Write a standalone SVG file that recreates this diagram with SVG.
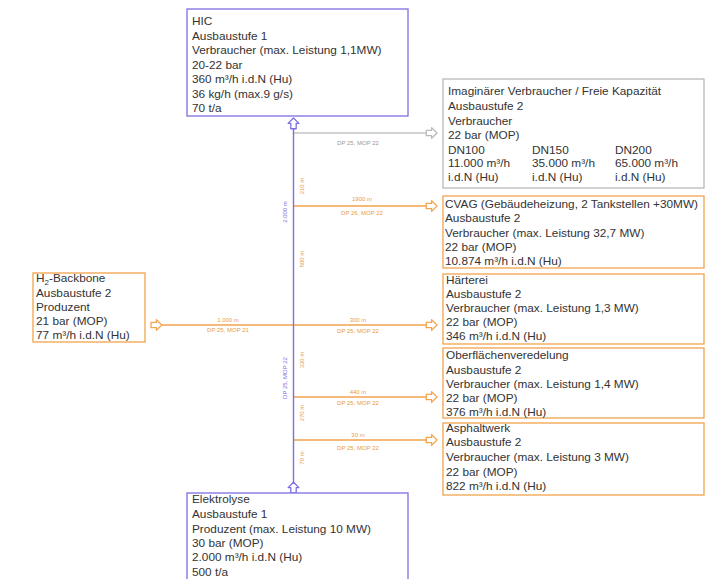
<svg xmlns="http://www.w3.org/2000/svg" width="707" height="579" viewBox="0 0 707 579">
<style>
.box{fill:#fff;stroke-width:1.3}
.pur{stroke:#7d6fe3}
.ora{stroke:#f2a34d}
.gry{stroke:#b9b9b9}
.t{font-family:"Liberation Sans",Arial,sans-serif;font-size:11.8px;fill:#333}
.lbl{font-family:"Liberation Sans",Arial,sans-serif;font-size:6px;text-anchor:middle}
.lo{fill:#e99b45}
.lp{fill:#7d6fe3}
.lg{fill:#999}
.ln{fill:none;stroke-width:1.4}
</style>
<defs>
<marker id="pe" markerUnits="userSpaceOnUse" markerWidth="14" markerHeight="14" viewBox="-1 -6 13 12" refX="10.5" refY="0" orient="auto"><path d="M0.5,-2.5H5.5V-5L10.5,0L5.5,5V2.5H0.5Z" fill="#fff" stroke="#7d6fe3" stroke-width="1.2" stroke-linejoin="round"/></marker>
<marker id="ps" markerUnits="userSpaceOnUse" markerWidth="14" markerHeight="14" viewBox="-1 -6 13 12" refX="0.5" refY="0" orient="auto"><path d="M0.5,-2.5H5.5V-5L10.5,0L5.5,5V2.5H0.5Z" fill="#fff" stroke="#7d6fe3" stroke-width="1.2" stroke-linejoin="round"/></marker>
<marker id="oe" markerUnits="userSpaceOnUse" markerWidth="14" markerHeight="14" viewBox="-1 -6 13 12" refX="10.5" refY="0" orient="auto"><path d="M0.5,-2.5H5.5V-5L10.5,0L5.5,5V2.5H0.5Z" fill="#fff" stroke="#f2a34d" stroke-width="1.2" stroke-linejoin="round"/></marker>
<marker id="os" markerUnits="userSpaceOnUse" markerWidth="14" markerHeight="14" viewBox="-1 -6 13 12" refX="0.5" refY="0" orient="auto"><path d="M0.5,-2.5H5.5V-5L10.5,0L5.5,5V2.5H0.5Z" fill="#fff" stroke="#f2a34d" stroke-width="1.2" stroke-linejoin="round"/></marker>
<marker id="ge" markerUnits="userSpaceOnUse" markerWidth="14" markerHeight="14" viewBox="-1 -6 13 12" refX="10.5" refY="0" orient="auto"><path d="M0.5,-2.5H5.5V-5L10.5,0L5.5,5V2.5H0.5Z" fill="#fff" stroke="#b9b9b9" stroke-width="1.2" stroke-linejoin="round"/></marker>
</defs>
<rect width="707" height="579" fill="#fff"/>

<g id="connectors">
<path class="ln" d="M293.5,133H437" stroke="#c4c4c4" marker-end="url(#ge)"/>
<path class="ln" d="M293.5,206H437" stroke="#f2a34d" marker-end="url(#oe)"/>
<path class="ln" d="M293.5,325H437" stroke="#f2a34d" marker-end="url(#oe)"/>
<path class="ln" d="M293.5,397H437" stroke="#f2a34d" marker-end="url(#oe)"/>
<path class="ln" d="M293.5,440H437" stroke="#f2a34d" marker-end="url(#oe)"/>
<path class="ln" d="M151,325H293.5" stroke="#f2a34d" marker-start="url(#os)"/>
<path class="ln" d="M293.5,493V118" stroke="#7d6fe3" marker-start="url(#ps)" marker-end="url(#pe)"/>
<text class="lbl lg" x="358" y="145">DP 25, MOP 22</text>
<text class="lbl lo" x="362" y="201">1900 m</text>
<text class="lbl lo" x="362" y="215">DP 26, MOP 22</text>
<text class="lbl lo" x="358" y="322">300 m</text>
<text class="lbl lo" x="358" y="333">DP 25, MOP 22</text>
<text class="lbl lo" x="358" y="394">440 m</text>
<text class="lbl lo" x="358" y="405">DP 25, MOP 22</text>
<text class="lbl lo" x="358" y="437">30 m</text>
<text class="lbl lo" x="358" y="450">DP 25, MOP 22</text>
<text class="lbl lo" x="228" y="322">1.000 m</text>
<text class="lbl lo" x="228" y="332">DP 25, MOP 21</text>
<text class="lbl lp" transform="translate(287,212) rotate(-90)">2.000 m</text>
<text class="lbl lo" transform="translate(304,186) rotate(-90)">210 m</text>
<text class="lbl lo" transform="translate(304,259) rotate(-90)">500 m</text>
<text class="lbl lp" transform="translate(287,378) rotate(-90)">DP 25, MOP 22</text>
<text class="lbl lo" transform="translate(304,360) rotate(-90)">330 m</text>
<text class="lbl lo" transform="translate(304,413) rotate(-90)">270 m</text>
<text class="lbl lo" transform="translate(304,458) rotate(-90)">70 m</text>
</g>

<g id="hic">
<rect class="box pur" x="187" y="9" width="221" height="107"/>
<text class="t" x="192" y="25">HIC</text>
<text class="t" x="192" y="39.5">Ausbaustufe 1</text>
<text class="t" x="192" y="54">Verbraucher (max. Leistung 1,1MW)</text>
<text class="t" x="192" y="68.5">20-22 bar</text>
<text class="t" x="192" y="83">360 m³/h i.d.N (Hu)</text>
<text class="t" x="192" y="97.5">36 kg/h (max.9 g/s)</text>
<text class="t" x="192" y="112">70 t/a</text>
</g>

<g id="imaginaer">
<rect class="box gry" x="443" y="79" width="261" height="109"/>
<text class="t" x="448" y="95">Imaginärer Verbraucher / Freie Kapazität</text>
<text class="t" x="448" y="110">Ausbaustufe 2</text>
<text class="t" x="448" y="125">Verbraucher</text>
<text class="t" x="448" y="139">22 bar (MOP)</text>
<text class="t" x="448" y="154">DN100</text>
<text class="t" x="532" y="154">DN150</text>
<text class="t" x="615" y="154">DN200</text>
<text class="t" x="448" y="167">11.000 m³/h</text>
<text class="t" x="532" y="167">35.000 m³/h</text>
<text class="t" x="615" y="167">65.000 m³/h</text>
<text class="t" x="448" y="181">i.d.N (Hu)</text>
<text class="t" x="532" y="181">i.d.N (Hu)</text>
<text class="t" x="615" y="181">i.d.N (Hu)</text>
</g>

<g id="cvag">
<rect class="box ora" x="443" y="196" width="261" height="72"/>
<text class="t" x="445" y="208">CVAG (Gebäudeheizung, 2 Tankstellen +30MW)</text>
<text class="t" x="445" y="222">Ausbaustufe 2</text>
<text class="t" x="445" y="237">Verbraucher (max. Leistung 32,7 MW)</text>
<text class="t" x="445" y="251">22 bar (MOP)</text>
<text class="t" x="445" y="265">10.874 m³/h i.d.N (Hu)</text>
</g>

<g id="haerterei">
<rect class="box ora" x="443" y="274" width="261" height="70"/>
<text class="t" x="446" y="284">Härterei</text>
<text class="t" x="446" y="298">Ausbaustufe 2</text>
<text class="t" x="446" y="312">Verbraucher (max. Leistung 1,3 MW)</text>
<text class="t" x="446" y="326">22 bar (MOP)</text>
<text class="t" x="446" y="340">346 m³/h i.d.N (Hu)</text>
</g>

<g id="oberflaechen">
<rect class="box ora" x="443" y="348" width="261" height="70"/>
<text class="t" x="446" y="359">Oberflächenveredelung</text>
<text class="t" x="446" y="374">Ausbaustufe 2</text>
<text class="t" x="446" y="388">Verbraucher (max. Leistung 1,4 MW)</text>
<text class="t" x="446" y="402">22 bar (MOP)</text>
<text class="t" x="446" y="416">376 m³/h i.d.N (Hu)</text>
</g>

<g id="asphaltwerk">
<rect class="box ora" x="443" y="423" width="261" height="72"/>
<text class="t" x="446" y="432">Asphaltwerk</text>
<text class="t" x="446" y="446">Ausbaustufe 2</text>
<text class="t" x="446" y="461">Verbraucher (max. Leistung 3 MW)</text>
<text class="t" x="446" y="476">22 bar (MOP)</text>
<text class="t" x="446" y="490">822 m³/h i.d.N (Hu)</text>
</g>

<g id="backbone">
<rect class="box ora" x="33" y="273" width="112" height="69"/>
<text class="t" x="36" y="282">H<tspan font-size="8" dy="3">2</tspan><tspan dy="-3">-Backbone</tspan></text>
<text class="t" x="36" y="297">Ausbaustufe 2</text>
<text class="t" x="36" y="311">Produzent</text>
<text class="t" x="36" y="325">21 bar (MOP)</text>
<text class="t" x="36" y="339">77 m³/h i.d.N (Hu)</text>
</g>

<g id="elektrolyse">
<rect class="box pur" x="187" y="493" width="221" height="100"/>
<text class="t" x="192" y="503">Elektrolyse</text>
<text class="t" x="192" y="518">Ausbaustufe 1</text>
<text class="t" x="192" y="533">Produzent (max. Leistung 10 MW)</text>
<text class="t" x="192" y="547">30 bar (MOP)</text>
<text class="t" x="192" y="561">2.000 m³/h i.d.N (Hu)</text>
<text class="t" x="192" y="576">500 t/a</text>
</g>
</svg>
